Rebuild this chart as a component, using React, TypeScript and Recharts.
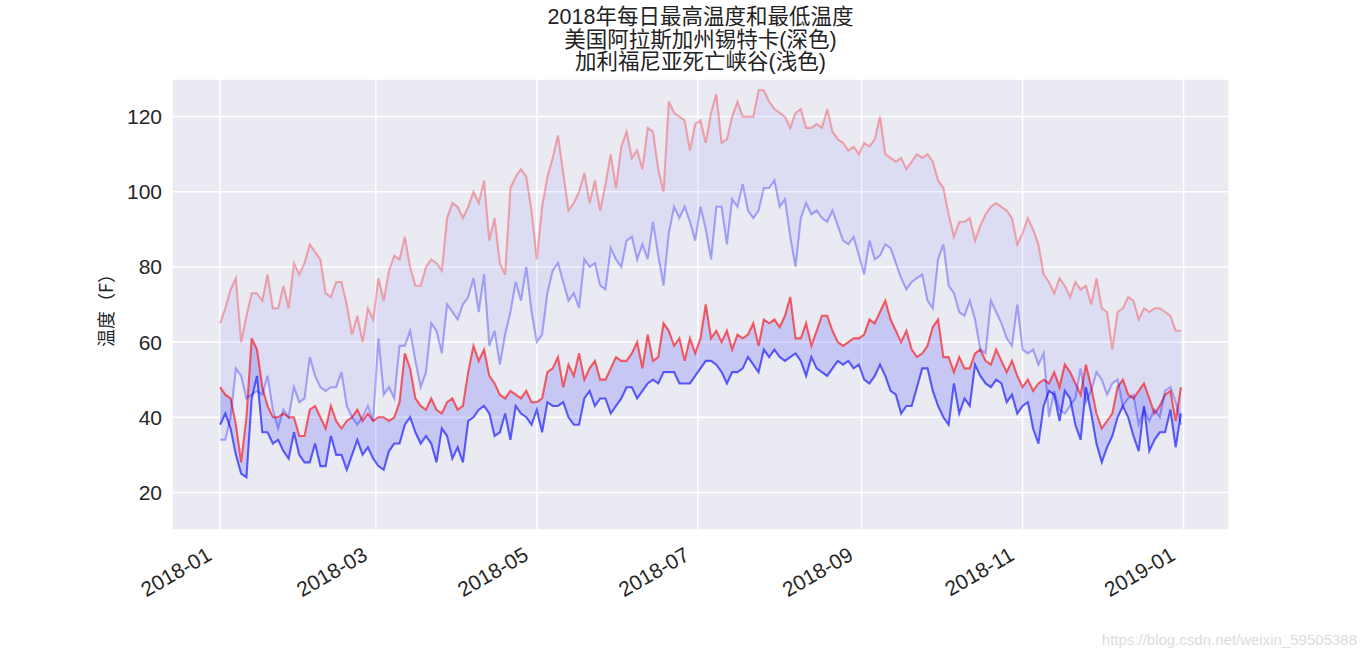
import React from "react";
import { Area, CartesianGrid, ComposedChart, Line, XAxis, YAxis } from "recharts";

// every other day of 2018, day 0 = 2018-01-01
const SAMPLE_STEP_DAYS = 2;

// 锡特卡 (Sitka) — 深色
const sitkaHighs = [
  48, 46, 45, 38, 28, 40, 61, 58, 48, 43, 40, 40, 41, 40, 40, 35, 35, 42, 43, 40, 37, 43, 39, 37, 39, 40, 42, 39, 41, 39,
  40, 40, 39, 40, 44, 57, 53, 45, 43, 42, 45, 42, 41, 44, 45, 42, 43, 52, 59, 55, 58, 51, 49, 46, 45, 47, 46, 45, 47, 44,
  44, 45, 52, 53, 56, 48, 54, 51, 57, 50, 53, 55, 50, 50, 53, 56, 55, 55, 57, 60, 53, 62, 55, 56, 65, 63, 59, 61, 55, 61,
  57, 61, 70, 61, 63, 60, 63, 58, 62, 61, 62, 65, 59, 66, 65, 66, 64, 67, 72, 61, 61, 65, 59, 63, 67, 67, 63, 60, 59, 60,
  61, 61, 62, 66, 65, 68, 71, 66, 63, 60, 63, 58, 56, 57, 59, 64, 66, 56, 56, 52, 56, 53, 53, 57, 58, 55, 54, 58, 55, 52,
  55, 51, 48, 50, 47, 49, 50, 49, 52, 48, 54, 52, 49, 46, 54, 48, 41, 37, 39, 41, 48, 50, 46, 45, 47, 49, 45, 41, 43, 46,
  47, 39, 48,
];
const sitkaLows = [
  38, 41, 37, 30, 25, 24, 45, 51, 36, 36, 33, 34, 31, 29, 36, 30, 28, 28, 33, 27, 27, 35, 30, 30, 26, 30, 34, 30, 32, 29,
  27, 26, 31, 33, 33, 38, 40, 36, 33, 35, 33, 28, 37, 35, 29, 32, 28, 39, 40, 42, 43, 41, 35, 36, 41, 34, 43, 41, 40, 38,
  42, 36, 44, 43, 43, 44, 40, 38, 38, 45, 47, 43, 45, 45, 41, 43, 45, 48, 48, 45, 47, 49, 50, 49, 52, 52, 52, 49, 49, 49,
  51, 53, 55, 55, 54, 52, 49, 52, 52, 53, 56, 54, 52, 58, 56, 58, 56, 55, 56, 57, 55, 51, 56, 53, 52, 51, 53, 55, 54, 55,
  53, 54, 50, 49, 51, 54, 51, 47, 46, 41, 43, 43, 48, 53, 53, 47, 43, 40, 38, 49, 41, 45, 43, 54, 51, 49, 48, 50, 49, 44,
  46, 41, 43, 44, 37, 33, 43, 47, 46, 39, 47, 45, 38, 34, 48, 41, 33, 28, 32, 35, 40, 43, 40, 35, 31, 43, 31, 34, 36, 36,
  42, 32, 41,
];

// 死亡谷 (Death Valley) — 浅色
const deathValleyHighs = [
  65, 69, 74, 77, 60, 67, 73, 73, 71, 78, 69, 69, 75, 69, 81, 78, 81, 86, 84, 82, 73, 72, 76, 76, 70, 62, 67, 60, 69, 66,
  77, 71, 79, 83, 82, 88, 80, 75, 75, 80, 82, 81, 79, 93, 97, 96, 93, 96, 100, 97, 103, 87, 93, 81, 78, 101, 104, 106, 104, 95,
  82, 96, 104, 109, 115, 105, 95, 97, 100, 105, 97, 103, 95, 102, 110, 101, 112, 116, 109, 111, 106, 117, 116, 106, 100, 124, 121, 120, 119, 111,
  118, 119, 113, 121, 126, 113, 114, 120, 124, 120, 120, 120, 127, 127, 124, 122, 121, 120, 117, 121, 122, 117, 117, 118, 117, 122, 116, 114, 113, 111,
  112, 110, 113, 112, 114, 120, 110, 109, 108, 109, 106, 108, 110, 109, 110, 108, 103, 101, 94, 88, 92, 92, 93, 87, 91, 94, 96, 97, 96, 95,
  93, 86, 89, 93, 90, 86, 78, 76, 73, 77, 75, 72, 76, 74, 75, 70, 77, 69, 68, 58, 68, 69, 72, 71, 66, 69, 68, 69, 69, 68,
  67, 63, 63,
];
const deathValleyLows = [
  34, 34, 40, 53, 51, 45, 46, 47, 46, 51, 42, 37, 42, 40, 48, 44, 45, 56, 51, 48, 47, 48, 48, 52, 43, 40, 38, 40, 43, 39,
  61, 46, 48, 45, 59, 59, 63, 55, 48, 52, 65, 63, 57, 70, 68, 66, 70, 72, 77, 68, 78, 59, 63, 54, 62, 68, 76, 71, 80, 68,
  60, 62, 73, 79, 81, 76, 71, 73, 69, 82, 80, 81, 75, 74, 85, 82, 80, 87, 88, 82, 86, 82, 92, 83, 75, 89, 96, 93, 96, 92,
  87, 96, 90, 82, 96, 96, 86, 98, 96, 102, 95, 93, 95, 101, 101, 103, 96, 98, 88, 80, 93, 97, 94, 95, 93, 92, 95, 91, 87, 86,
  88, 83, 78, 87, 82, 83, 86, 85, 81, 77, 74, 76, 77, 78, 71, 69, 82, 86, 75, 73, 68, 67, 71, 66, 58, 57, 71, 68, 65, 61,
  59, 70, 58, 57, 58, 54, 57, 40, 47, 42, 41, 43, 45, 53, 44, 47, 52, 50, 46, 49, 50, 43, 45, 46, 38, 42, 39, 42, 40, 47,
  48, 44, 38,
];

const TICK_DAYS = [0, 59, 120, 181, 243, 304, 365];
const TICK_LABELS = ["2018-01", "2018-03", "2018-05", "2018-07", "2018-09", "2018-11", "2019-01"];
const Y_TICKS = [20, 40, 60, 80, 100, 120];

const TITLE_LINES = ["2018年每日最高温度和最低温度", "美国阿拉斯加州锡特卡(深色)", "加利福尼亚死亡峡谷(浅色)"];

const data = sitkaHighs.map((h, i) => ({
  day: i * SAMPLE_STEP_DAYS,
  skHigh: h,
  skLow: sitkaLows[i],
  skRange: [sitkaLows[i], h],
  dvHigh: deathValleyHighs[i],
  dvLow: deathValleyLows[i],
  dvRange: [deathValleyLows[i], deathValleyHighs[i]],
}));

const TEXT = "#262626";
const LATIN = "'Liberation Sans', Arial, sans-serif";
const CJK = "'Noto Sans CJK SC', sans-serif";
// title: Latin metrics first so the tightly packed lines keep small boxes
const TITLE_FONT = "'Liberation Sans', 'Noto Sans CJK SC', sans-serif";

function DateTick(props: any) {
  const { x, y, payload } = props;
  const idx = TICK_DAYS.indexOf(payload.value);
  const tx = x - 7;
  const ty = y + 29;
  return (
    <text
      x={tx}
      y={ty}
      transform={`rotate(-30 ${tx} ${ty})`}
      textAnchor="end"
      fill={TEXT}
      fontSize={21}
      fontFamily={LATIN}
    >
      {TICK_LABELS[idx]}
    </text>
  );
}

export default function App() {
  return (
    <div style={{ position: "absolute", left: 0, top: 0, width: 1366, height: 662, background: "#fff" }}>
      {TITLE_LINES.map((t, i) => (
        <div
          key={t}
          style={{
            position: "absolute",
            left: 172,
            top: 6 + i * 22.7,
            width: 1057,
            height: 22,
            textAlign: "center",
            fontFamily: TITLE_FONT,
            fontSize: 21.5,
            lineHeight: "22px",
            color: "#222",
            whiteSpace: "nowrap",
          }}
        >
          {t}
        </div>
      ))}
      <div
        style={{
          position: "absolute",
          left: 105,
          top: 306,
          transform: "translate(-50%, -50%) rotate(-90deg)",
          whiteSpace: "nowrap",
          fontFamily: CJK,
          fontSize: 18,
          color: TEXT,
        }}
      >
        温度（F）
      </div>
      <ComposedChart
        width={1366}
        height={662}
        data={data}
        margin={{ top: 79, right: 137, bottom: 72, left: 112 }}
      >
        <CartesianGrid stroke="#ffffff" strokeWidth={1.5} fill="#EAEAF2" fillOpacity={1} />
        <XAxis
          type="number"
          dataKey="day"
          domain={[-18.2, 382.2]}
          ticks={TICK_DAYS}
          allowDataOverflow
          axisLine={false}
          tickLine={false}
          tickSize={0}
          tickMargin={0}
          height={60}
          interval={0}
          tick={<DateTick />}
        />
        <YAxis
          domain={[10, 130]}
          ticks={Y_TICKS}
          allowDataOverflow
          axisLine={false}
          tickLine={false}
          tickSize={0}
          tickMargin={10}
          width={60}
          tick={{ fill: TEXT, fontSize: 21, fontFamily: LATIN }}
        />
        <Area
          dataKey="skRange"
          type="linear"
          stroke="none"
          fill="#0000ff"
          fillOpacity={0.15}
          isAnimationActive={false}
        />
        <Line dataKey="skHigh" type="linear" stroke="#ff0000" strokeOpacity={0.6} strokeWidth={2.1} dot={false} isAnimationActive={false} />
        <Line dataKey="skLow" type="linear" stroke="#0000ff" strokeOpacity={0.6} strokeWidth={2.1} dot={false} isAnimationActive={false} />
        <Area
          dataKey="dvRange"
          type="linear"
          stroke="none"
          fill="#0000ff"
          fillOpacity={0.06}
          isAnimationActive={false}
        />
        <Line dataKey="dvHigh" type="linear" stroke="#ff0000" strokeOpacity={0.3} strokeWidth={2.1} dot={false} isAnimationActive={false} />
        <Line dataKey="dvLow" type="linear" stroke="#0000ff" strokeOpacity={0.3} strokeWidth={2.1} dot={false} isAnimationActive={false} />
      </ComposedChart>
      <div
        style={{
          position: "absolute",
          right: 9,
          top: 631,
          fontFamily: LATIN,
          fontSize: 15,
          color: "#dcdcdc",
          whiteSpace: "nowrap",
        }}
      >
        https://blog.csdn.net/weixin_59505388
      </div>
    </div>
  );
}
